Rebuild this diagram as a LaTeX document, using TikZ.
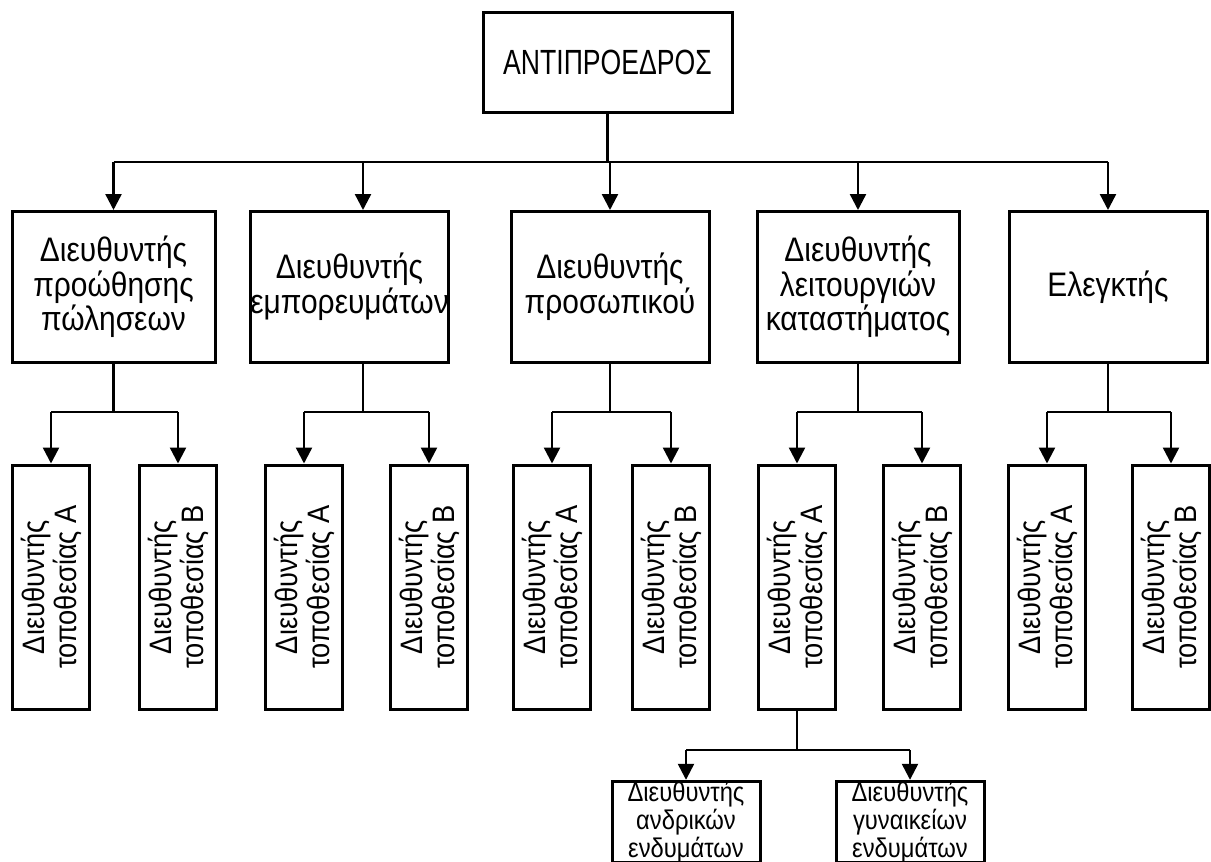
\documentclass[tikz,border=0pt]{standalone}
\usepackage{fontspec}
\setmainfont{Liberation Sans}[FakeStretch=0.88]
\newfontfamily\narrowfont{Liberation Sans}[FakeStretch=0.76]
\usetikzlibrary{arrows.meta,calc}

\begin{document}
\begin{tikzpicture}[x=0.5pt,y=-0.5pt,
  box/.style={draw,line width=1.5pt,inner sep=0pt,align=center},
  headbox/.style={box,minimum width=124.5pt,minimum height=50pt,
    font=\narrowfont\fontsize{17.5}{17.5}\selectfont},
  dirbox/.style={box,minimum height=75.5pt,
    font=\fontsize{17}{15.5}\selectfont},
  sitebox/.style={box,rotate=90,minimum width=122pt,minimum height=38.5pt,
    font=\fontsize{15.5}{16}\selectfont},
  wearbox/.style={box,minimum height=37pt,
    font=\fontsize{13.5}{11}\selectfont},
  conn/.style={line width=1.2pt},
  arr/.style={conn,-{Triangle[width=8pt,length=8pt]}}
]
\useasboundingbox (0,0) rectangle (1211,862);

% head of the chart
\node[headbox] (vp) at (607.5,62) {ΑΝΤΙΠΡΟΕΔΡΟΣ};

% directors
\node[dirbox,minimum width=101.5pt] (b1) at (113.5,287) {Διευθυντής\\προώθησης\\πώλησεων};
\node[dirbox,minimum width=87.5pt]  (b2) at (349.5,287) {Διευθυντής\\εμπορευμάτων};
\node[dirbox,minimum width=99pt]    (b3) at (610,287)   {Διευθυντής\\προσωπικού};
\node[dirbox,minimum width=101pt]   (b4) at (858,287)   {Διευθυντής\\λειτουργιών\\καταστήματος};
\node[dirbox,minimum width=99pt]    (b5) at (1108,287)  {Ελεγκτής};

% site managers (text reads upwards)
\node[sitebox] (l1a) at (51,587)   {Διευθυντής\\τοποθεσίας Α};
\node[sitebox] (l1b) at (178,587)  {Διευθυντής\\τοποθεσίας Β};
\node[sitebox] (l2a) at (304,587)  {Διευθυντής\\τοποθεσίας Α};
\node[sitebox] (l2b) at (429,587)  {Διευθυντής\\τοποθεσίας Β};
\node[sitebox] (l3a) at (552,587)  {Διευθυντής\\τοποθεσίας Α};
\node[sitebox] (l3b) at (671,587)  {Διευθυντής\\τοποθεσίας Β};
\node[sitebox] (l4a) at (797,587)  {Διευθυντής\\τοποθεσίας Α};
\node[sitebox] (l4b) at (922,587)  {Διευθυντής\\τοποθεσίας Β};
\node[sitebox] (l5a) at (1047,587) {Διευθυντής\\τοποθεσίας Α};
\node[sitebox] (l5b) at (1171,587) {Διευθυντής\\τοποθεσίας Β};

% clothing managers
\node[wearbox,minimum width=74pt] (m1) at (686,822) {Διευθυντής\\ανδρικών\\ενδυμάτων};
\node[wearbox,minimum width=74pt] (m2) at (910,822) {Διευθυντής\\γυναικείων\\ενδυμάτων};

% bus levels
\coordinate (bus1) at (0,162);
\coordinate (bus2) at (0,412);
\coordinate (bus3) at (0,750);
\coordinate (b2in)  at ($(b2.north)+(13.5,0)$);
\coordinate (b2out) at ($(b2.south)+(13.5,0)$);

% head to directors
\draw[conn] (vp.south) -- (vp.south |- bus1);
\draw[conn] (b1.north |- bus1) -- (b5.north |- bus1);
\foreach \n in {b1,b3,b4,b5}
  \draw[arr] (\n.north |- bus1) -- (\n.north);
\draw[arr] (b2in |- bus1) -- (b2in);

% directors to site managers
\foreach \d/\a/\b in {b1/l1a/l1b,b3/l3a/l3b,b4/l4a/l4b,b5/l5a/l5b}{
  \draw[conn] (\d.south) -- (\d.south |- bus2);
  \draw[conn] (\a.east |- bus2) -- (\b.east |- bus2);
  \draw[arr] (\a.east |- bus2) -- (\a.east);
  \draw[arr] (\b.east |- bus2) -- (\b.east);
}
\draw[conn] (b2out) -- (b2out |- bus2);
\draw[conn] (l2a.east |- bus2) -- (l2b.east |- bus2);
\draw[arr] (l2a.east |- bus2) -- (l2a.east);
\draw[arr] (l2b.east |- bus2) -- (l2b.east);

% site manager to clothing managers
\draw[conn] (l4a.west) -- (l4a.west |- bus3);
\draw[conn] (m1.north |- bus3) -- (m2.north |- bus3);
\draw[arr] (m1.north |- bus3) -- (m1.north);
\draw[arr] (m2.north |- bus3) -- (m2.north);
\end{tikzpicture}
\end{document}
